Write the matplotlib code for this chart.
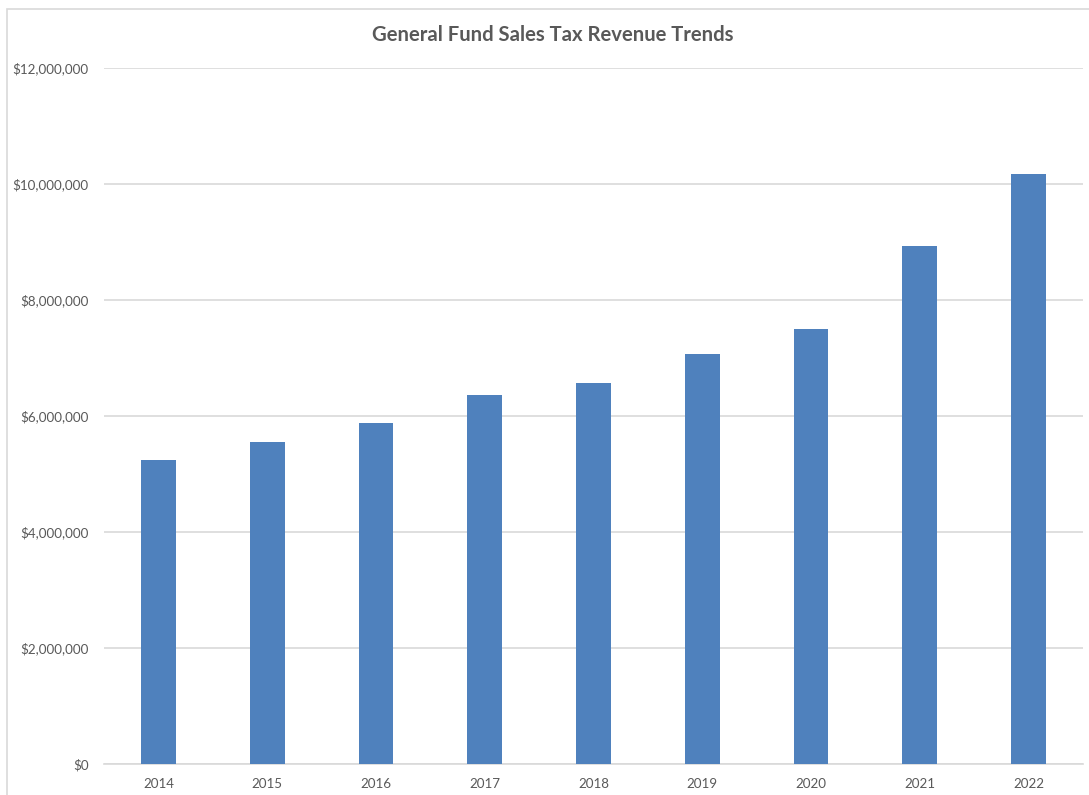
import matplotlib.pyplot as plt
from matplotlib.patches import Rectangle
from matplotlib.ticker import FuncFormatter

years = ['2014', '2015', '2016', '2017', '2018', '2019', '2020', '2021', '2022']
revenue = [5240000, 5550000, 5880000, 6360000, 6570000, 7070000, 7500000, 8930000, 10180000]

plt.rcParams['font.family'] = ['Lato', 'DejaVu Sans']

fig = plt.figure(figsize=(10.89, 7.95), dpi=100)
ax = fig.add_axes([104/1089, 31/795, 979/1089, 696/795])

ax.bar(years, revenue, width=0.32, color='#4f81bd', zorder=3)

ax.set_ylim(0, 12000000)
ax.set_xlim(-0.5, len(years) - 0.5)
ax.set_yticks(range(0, 12000001, 2000000))
ax.yaxis.set_major_formatter(FuncFormatter(lambda v, p: f'${v:,.0f}'))
ax.grid(True, axis='y', color='#d9d9d9', linewidth=1.2, zorder=0)
for s in ['top', 'right', 'left']:
    ax.spines[s].set_visible(False)
ax.spines['bottom'].set_color('#d9d9d9')
ax.spines['bottom'].set_linewidth(1.2)
ax.tick_params(length=0, colors='#595959', labelsize=9.6)
ax.tick_params(axis='y', pad=11)
ax.tick_params(axis='x', pad=10)

fig.text(553/1089, 1 - 35/795, 'General Fund Sales Tax Revenue Trends',
         ha='center', va='center', fontsize=14.6, fontweight='bold', color='#595959')

# outer chart border
fig.patches.append(Rectangle((7/1089, -0.01), 1.1, 1 - 9/795 + 0.01, transform=fig.transFigure,
                             fill=False, edgecolor='#d9d9d9', linewidth=1.2))

fig.savefig('out.png', dpi=100)
